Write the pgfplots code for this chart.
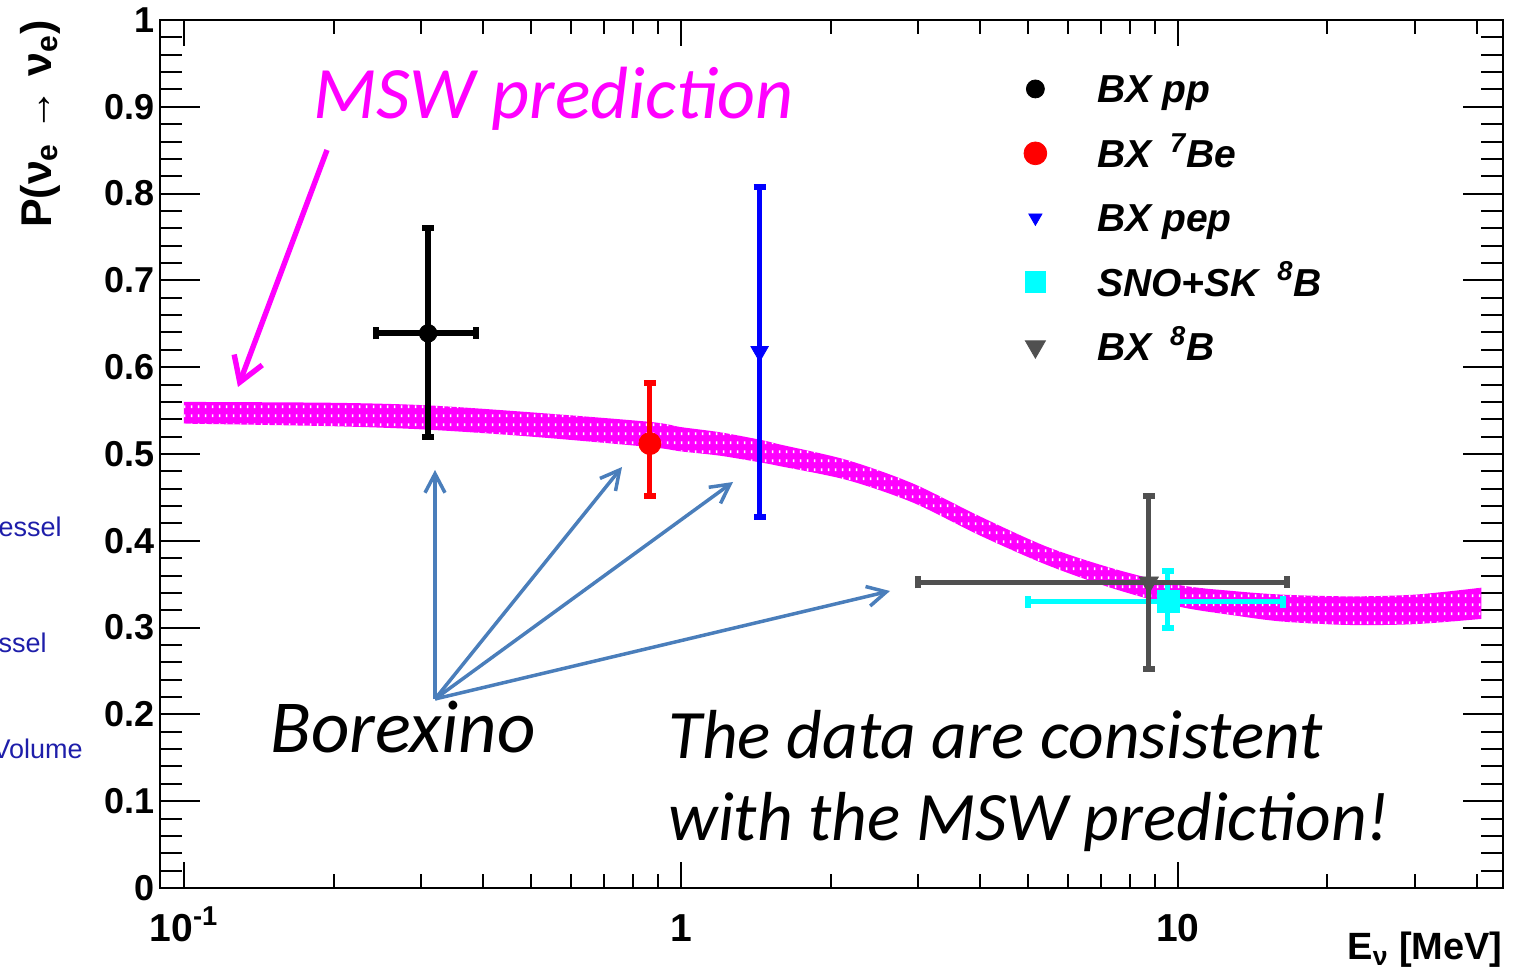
\documentclass[border=0pt]{standalone}
\usepackage{fontspec}
\setmainfont{Liberation Sans}
\newfontfamily\carlito{Carlito}
\usepackage{pgfplots}
\usepackage{pgfplotstable}
\pgfplotsset{compat=1.18}
\usepgfplotslibrary{fillbetween}
\usetikzlibrary{arrows.meta,patterns.meta}

\definecolor{msw}{RGB}{255,0,255}
\definecolor{arrowblue}{RGB}{74,126,187}
\definecolor{bxgray}{RGB}{80,80,80}
\definecolor{snocyan}{RGB}{0,255,255}
\definecolor{cutblue}{RGB}{30,30,170}

\pgfdeclarepattern{
  name=mswdots,
  type=uncolored,
  bottom left={\pgfpoint{0pt}{0pt}},
  top right={\pgfpoint{3.5pt}{4.5pt}},
  tile size={\pgfpoint{3.5pt}{4.5pt}},
  code={\pgfpathrectangle{\pgfpoint{1pt}{1pt}}{\pgfpoint{0.9pt}{1.5pt}}\pgfusepath{fill}}
}

\newcommand{\smsup}[1]{\hspace{0.2em}\smash{\textsuperscript{#1}}}

% MSW prediction band (upper / lower edge)
\pgfplotstableread{
x     top    bot
0.1   0.560  0.535
0.2   0.559  0.532
0.31  0.556  0.528
0.5   0.548  0.520
0.866 0.537  0.508
1.0   0.531  0.503
1.2   0.525  0.498
1.455 0.516  0.490
1.582 0.511  0.486
2.16  0.493  0.470
2.93  0.466  0.444
4.0   0.428  0.406
5.46  0.393  0.372
7.41  0.368  0.345
10.08 0.349  0.324
13    0.342  0.314
16.2  0.338  0.307
22.2  0.336  0.303
30    0.338  0.304
40.8  0.346  0.310
}\bandtable

\pgfplotstableread{
x    y     exm   exp   eym   eyp
0.31 0.639 0.066 0.077 0.119 0.121
}\pptable
\pgfplotstableread{
x     y     eyp   eym
0.866 0.512 0.070 0.060
}\betable
\pgfplotstableread{
x    y     eyp   eym
1.44 0.618 0.190 0.191
}\peptable
\pgfplotstableread{
x    y     exm  exp  eym   eyp
9.55 0.330 4.55 6.75 0.030 0.035
}\snotable
\pgfplotstableread{
x    y     exm  exp  eym   eyp
8.74 0.352 5.74 7.86 0.100 0.100
}\bxbtable

\begin{document}
\begin{tikzpicture}
\begin{axis}[
  scale only axis, width=671.5pt, height=434pt,
  xmode=log, xmin=0.0895, xmax=45.1, ymin=0, ymax=1,
  xtick={0.1,1,10},
  xticklabels={10\textsuperscript{-1},1,10},
  minor xtick={0.2,0.3,0.4,0.5,0.6,0.7,0.8,0.9,2,3,4,5,6,7,8,9,20,30,40},
  ytick={0,0.1,0.2,0.3,0.4,0.5,0.6,0.7,0.8,0.9,1},
  yticklabels={0,0.1,0.2,0.3,0.4,0.5,0.6,0.7,0.8,0.9,1},
  minor ytick={0.02,0.04,0.06,0.08,0.12,0.14,0.16,0.18,0.22,0.24,0.26,0.28,0.32,0.34,0.36,0.38,0.42,0.44,0.46,0.48,0.52,0.54,0.56,0.58,0.62,0.64,0.66,0.68,0.72,0.74,0.76,0.78,0.82,0.84,0.86,0.88,0.92,0.94,0.96,0.98},
  tick align=inside,
  axis line style={line width=1pt, black},
  tick style={black, line width=1pt},
  xtick style={/pgfplots/major tick length=13pt, /pgfplots/minor tick length=7pt},
  ytick style={/pgfplots/major tick length=20pt, /pgfplots/minor tick length=11pt},
  xticklabel style={font=\fontsize{19.5}{22}\selectfont\bfseries, anchor=base, yshift=-26.5pt},
  yticklabel style={font=\fontsize{18}{20}\selectfont\bfseries, anchor=east, xshift=1pt},
  xlabel={E\textsubscript{ν} [MeV]},
  xlabel style={at={(axis description cs:1,-0.0829)}, anchor=base east, inner sep=0pt,
    font=\fontsize{19}{22}\selectfont\bfseries},
  ylabel={P(ν\textsubscript{e} → ν\textsubscript{e})},
  ylabel style={at={(axis description cs:-0.0894,1)}, anchor=east, inner sep=0pt,
    font=\fontsize{21.5}{24}\selectfont\bfseries},
  legend style={draw=none, fill=none, at={(axis description cs:0.6396,0.9451)},
    anchor=north west, font=\fontsize{19.5}{22}\selectfont\bfseries\itshape,
    row sep=11.3pt, inner sep=0pt, cells={anchor=west}},
  legend image code/.code={\draw[#1, only marks] plot coordinates {(0pt,0pt)}; \path[draw=none] (-8pt,0pt) (29pt,0pt);},
]
% MSW band
\addplot[name path=upper, draw=none, smooth, forget plot] table[x=x,y=top]{\bandtable};
\addplot[name path=lower, draw=none, smooth, forget plot] table[x=x,y=bot]{\bandtable};
\addplot[fill=msw, draw=none, postaction={pattern=mswdots, pattern color=white}, forget plot]
  fill between[of=upper and lower];

% data
\addplot[black, only marks, mark=*, mark size=4.4pt, forget plot,
  error bars/.cd, x dir=both, y dir=both, x explicit, y explicit,
  error mark options={rotate=90, mark size=3pt, line width=3pt, black},
  error bar style={line width=3pt}]
  table[x=x, y=y, x error plus=exp, x error minus=exm, y error plus=eyp, y error minus=eym]{\pptable};
\addplot[red, only marks, mark=*, mark size=5.5pt, forget plot,
  error bars/.cd, y dir=both, y explicit,
  error mark options={rotate=90, mark size=3pt, line width=3pt, red},
  error bar style={line width=2.5pt}]
  table[x=x, y=y, y error plus=eyp, y error minus=eym]{\betable};
\addplot[blue, only marks, mark=triangle*, mark options={rotate=180}, mark size=5pt, forget plot,
  error bars/.cd, y dir=both, y explicit,
  error mark options={rotate=90, mark size=3pt, line width=3pt, blue},
  error bar style={line width=2.5pt}]
  table[x=x, y=y, y error plus=eyp, y error minus=eym]{\peptable};
\addplot[snocyan, only marks, mark=square*, mark size=5.5pt, forget plot,
  error bars/.cd, x dir=both, y dir=both, x explicit, y explicit,
  error mark options={rotate=90, mark size=3pt, line width=3pt, snocyan},
  error bar style={line width=2.5pt}]
  table[x=x, y=y, x error plus=exp, x error minus=exm, y error plus=eyp, y error minus=eym]{\snotable};
\addplot[bxgray, only marks, mark=triangle*, mark options={rotate=180}, mark size=5.5pt, forget plot,
  error bars/.cd, x dir=both, y dir=both, x explicit, y explicit,
  error mark options={rotate=90, mark size=3pt, line width=3pt, bxgray},
  error bar style={line width=2.5pt}]
  table[x=x, y=y, x error plus=exp, x error minus=exm, y error plus=eyp, y error minus=eym]{\bxbtable};

% legend
\addlegendimage{only marks, mark=*, black, mark size=4.5pt}
\addlegendentry{\strut BX pp}
\addlegendimage{only marks, mark=*, red, mark size=5.7pt}
\addlegendentry{\strut BX \smsup{7}Be}
\addlegendimage{only marks, mark=triangle*, mark options={rotate=180}, blue, mark size=3.8pt}
\addlegendentry{\strut BX pep}
\addlegendimage{only marks, mark=square*, snocyan, mark size=5.2pt}
\addlegendentry{\strut SNO+SK \smsup{8}B}
\addlegendimage{only marks, mark=triangle*, mark options={rotate=180}, bxgray, mark size=5.8pt}
\addlegendentry{\strut BX \smsup{8}B}
\end{axis}

% annotations, in pixel units of the reference (origin top left)
\begin{scope}[shift={(-80pt,444pt)}, x=0.5pt, y=-0.5pt]
  \draw[msw, line width=2.7pt, -{Straight Barb[length=12pt,width=15pt]}] (327,150) -- (238,387);
  \node[msw, anchor=base west, inner sep=0pt, font=\carlito\itshape\fontsize{37}{42}\selectfont]
    at (313,119) {MSW prediction};
  \node[black, anchor=base west, inner sep=0pt, font=\carlito\itshape\fontsize{37.4}{42}\selectfont]
    at (270,752) {Borexino};
  \node[black, anchor=base west, inner sep=0pt, font=\carlito\itshape\fontsize{34.7}{40}\selectfont]
    at (668,758) {The data are consistent};
  \node[black, anchor=base west, inner sep=0pt, font=\carlito\itshape\fontsize{34.7}{40}\selectfont]
    at (668,840) {with the MSW prediction!};
  \foreach \tx/\ty in {435/470, 622/467, 733/482, 890/591}
    \draw[arrowblue, line width=1.75pt, -{Straight Barb[length=9.5pt,width=10pt]}] (435,699) -- (\tx,\ty);
  \node[cutblue, anchor=base east, inner sep=0pt, font=\fontsize{13.5}{16}\selectfont] at (62,537) {Vessel};
  \node[cutblue, anchor=base east, inner sep=0pt, font=\fontsize{13.5}{16}\selectfont] at (47,652) {Vessel};
  \node[cutblue, anchor=base east, inner sep=0pt, font=\fontsize{13.5}{16}\selectfont] at (83,758) {Volume};
\end{scope}
\pgfresetboundingbox
\path[use as bounding box] (-80pt,-44pt) rectangle (678pt,444pt);
\end{tikzpicture}
\end{document}
